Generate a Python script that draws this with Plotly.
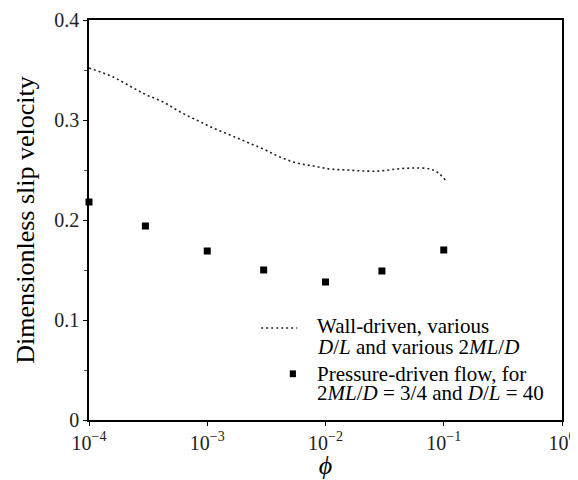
import plotly.graph_objects as go

# Wall-driven (dotted curve)
wall_phi = [1.0e-4, 1.6e-4, 2.37e-4, 3.08e-4, 4.25e-4, 5.9e-4, 8.1e-4, 1.12e-3,
            1.56e-3, 2.15e-3, 2.98e-3, 4.12e-3, 5.7e-3, 7.9e-3, 1.09e-2, 1.51e-2,
            2.09e-2, 2.89e-2, 4.0e-2, 5.53e-2, 7.66e-2, 9.0e-2, 1.03e-1]
wall_slip = [0.352, 0.343, 0.332, 0.325, 0.318, 0.308, 0.300, 0.292,
             0.285, 0.278, 0.271, 0.263, 0.257, 0.254, 0.251, 0.250,
             0.249, 0.249, 0.251, 0.252, 0.251, 0.247, 0.240]

# Pressure-driven (squares)
press_phi = [1e-4, 3e-4, 1e-3, 3e-3, 1e-2, 3e-2, 1e-1]
press_slip = [0.218, 0.194, 0.169, 0.150, 0.138, 0.149, 0.170]

x_tickvals = [1e-4, 1e-3, 1e-2, 1e-1, 1e0]
x_ticktext = ["10<sup>\u22124</sup>", "10<sup>\u22123</sup>", "10<sup>\u22122</sup>",
              "10<sup>\u22121</sup>", "10<sup>0</sup>"]
y_tickvals = [0, 0.1, 0.2, 0.3, 0.4]
y_ticktext = ["0", "0.1", "0.2", "0.3", "0.4"]

FONT = "Times New Roman, Liberation Serif, serif"

fig = go.Figure()
fig.add_trace(go.Scatter(x=wall_phi, y=wall_slip, mode="lines",
                         line=dict(color="#222", width=1.6, dash="2px,3px", shape="spline"),
                         showlegend=False))
fig.add_trace(go.Scatter(x=press_phi, y=press_slip, mode="markers",
                         marker=dict(symbol="square", size=7, color="black"),
                         cliponaxis=False, showlegend=False))

# legend samples and text
fig.add_shape(type="line", xref="paper", yref="paper", x0=0.364, x1=0.44, y0=0.23, y1=0.23,
              line=dict(color="#222", width=1.6, dash="2px,3px"))
fig.add_shape(type="rect", xref="paper", yref="paper", x0=0.4245, x1=0.4375, y0=0.107, y1=0.124,
              fillcolor="black", line=dict(width=0))
leg_lines = [
    ("Wall-driven, various", 0.234),
    ("<i>D</i>/<i>L</i> and various 2<i>ML</i>/<i>D</i>", 0.182),
    ("Pressure-driven flow, for", 0.115),
    ("2<i>ML</i>/<i>D</i> = 3/4 and <i>D</i>/<i>L</i> = 40", 0.068),
]
for txt, yy in leg_lines:
    fig.add_annotation(text=txt, xref="paper", yref="paper", x=0.478, y=yy,
                       xanchor="left", yanchor="middle", showarrow=False,
                       font=dict(family=FONT, size=21, color="black"))

fig.update_xaxes(type="log", range=[-4, 0], tickvals=x_tickvals, ticktext=x_ticktext,
                 showline=True, linecolor="black", linewidth=1.5, mirror=True,
                 ticks="outside", ticklen=4, tickcolor="black", showgrid=False, zeroline=False,
                 automargin=False,
                 tickfont=dict(family=FONT, size=20, color="#222"),
                 title=dict(text="<i>\u03d5</i>", font=dict(family=FONT, size=26, color="black"),
                            standoff=0))
fig.update_yaxes(range=[0, 0.4], tickvals=y_tickvals, ticktext=y_ticktext,
                 showline=True, linecolor="black", linewidth=1.5, mirror=True,
                 ticks="outside", ticklen=4, tickcolor="black", showgrid=False, zeroline=False,
                 automargin=False,
                 minor=dict(tickvals=[0.05, 0.15, 0.25, 0.35], ticks="outside", ticklen=3,
                            tickcolor="#555"),
                 tickfont=dict(family=FONT, size=20, color="#222"),
                 title=dict(text="Dimensionless slip velocity",
                            font=dict(family=FONT, size=26, color="black"), standoff=12))

fig.update_layout(width=570, height=472, margin=dict(l=81, r=16, t=12, b=60),
                  plot_bgcolor="white", paper_bgcolor="white", showlegend=False)

fig.write_html("out.html")
